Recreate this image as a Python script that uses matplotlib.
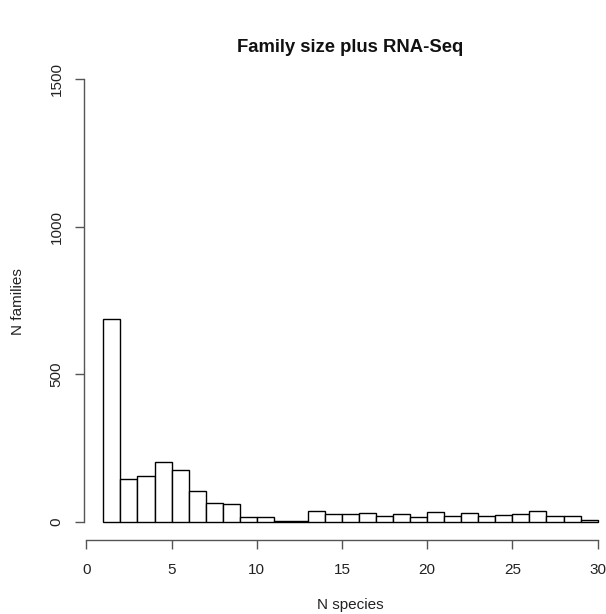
import matplotlib
matplotlib.use("Agg")
import matplotlib.pyplot as plt
import numpy as np

plt.rcParams['font.family'] = ['Liberation Sans', 'DejaVu Sans']

# Histogram bins (N species) and counts (N families)
bin_edges = list(range(1, 31))
counts = [688, 146, 154, 203, 174, 104, 65, 60, 17, 16, 3, 3, 36, 27, 26, 31,
          19, 26, 16, 33, 20, 29, 18, 24, 27, 37, 20, 20, 5]
x_ticks = [0, 5, 10, 15, 20, 25, 30]
y_ticks = [0, 500, 1000, 1500]
title = "Family size plus RNA-Seq"
xlabel = "N species"
ylabel = "N families"

W, H = 606, 614
fig = plt.figure(figsize=(W / 100, H / 100), dpi=100)
left, right, bottom, top = 83.6, 617.4, 539.5, 61.6
ax = fig.add_axes([left / W, 1 - bottom / H, (right - left) / W, (bottom - top) / H])

lefts = np.array(bin_edges[:-1])
widths = np.diff(bin_edges)
ax.bar(lefts, counts, width=widths, align='edge', facecolor='white',
       edgecolor='black', linewidth=1.0)

ax.set_xlim(-0.16, 31.16)
ax.set_ylim(-60, 1560)

for s in ['top', 'right']:
    ax.spines[s].set_visible(False)
ax.spines['left'].set_bounds(0, 1500)
ax.spines['bottom'].set_bounds(0, 30)
for s in ['left', 'bottom']:
    ax.spines[s].set_color('#555555')
    ax.spines[s].set_linewidth(1.0)

ax.set_xticks(x_ticks)
ax.set_yticks(y_ticks)
ax.set_xticklabels([str(v) for v in x_ticks])
ax.set_yticklabels([str(v) for v in y_ticks], rotation=90, va='center')
ax.tick_params(axis='both', length=6.5, width=1.0, color='#555555',
               labelsize=11, labelcolor='#222222')
ax.tick_params(axis='x', pad=10.5)
ax.tick_params(axis='y', pad=8)

fig.text((left + right) / 2 / W, 1 - 47 / H, title, ha='center', va='center',
         fontsize=13.3, fontweight='bold', color='#111111')
fig.text((left + right) / 2 / W, 1 - 605 / H, xlabel, ha='center', va='center',
         fontsize=11, color='#222222')
fig.text(18.5 / W, 1 - 302 / H, ylabel, ha='center', va='center',
         fontsize=11, rotation=90, color='#222222')

fig.savefig("out.png", dpi=100)
